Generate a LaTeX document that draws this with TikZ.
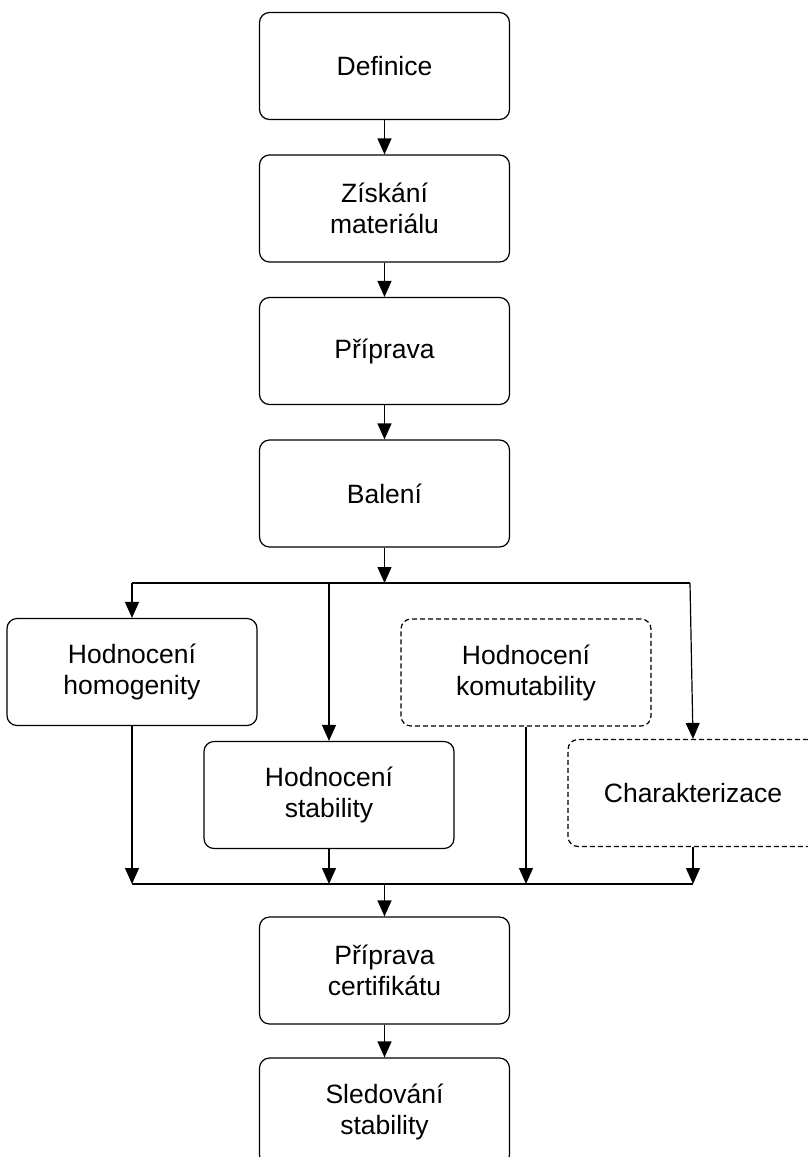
\documentclass[tikz,border=0pt]{standalone}
\usepackage{fontspec}
\setmainfont{Liberation Sans}
\usetikzlibrary{arrows.meta}
\begin{document}
\begin{tikzpicture}[x=1pt,y=-1pt,
  box/.style={draw, line width=1.2pt, rounded corners=10pt, minimum width=250pt,
    minimum height=107pt, align=center, inner sep=0pt,
    font=\fontsize{26.5}{31}\selectfont},
  optbox/.style={box, dash pattern=on 5pt off 3pt},
  link/.style={line width=1.2pt},
  arr/.style={link, -{Triangle[length=16pt,width=14pt]}}]
\useasboundingbox (0,0) rectangle (808,1157);
\clip (0,0) rectangle (808,1157);
\fill[white] (0,0) rectangle (808,1157);

% main chain
\node[box] (def)  at (384.5,66)    {Definice};
\node[box] (zis)  at (384.5,208.5) {Získání\\materiálu};
\node[box] (pri)  at (384.5,351)   {Příprava};
\node[box] (bal)  at (384.5,493.5) {Balení};

% parallel evaluations
\node[box]    (hom) at (132,672)   {Hodnocení\\homogenity};
\node[box]    (sta) at (329,795)   {Hodnocení\\stability};
\node[optbox] (kom) at (526,672.5) {Hodnocení\\komutability};
\node[optbox] (cha) at (693,793)   {Charakterizace};

% final steps
\node[box] (cert) at (384.5,970.5)  {Příprava\\certifikátu};
\node[box] (sled) at (384.5,1111.5) {Sledování\\stability};

\draw[arr] (def) -- (zis);
\draw[arr] (zis) -- (pri);
\draw[arr] (pri) -- (bal);

% fan-out bar
\coordinate (split) at (384.5,583);
\coordinate (bL) at (132,583);
\coordinate (bR) at (690,583);
\draw[arr] (bal) -- (split);
\draw[link] (bL) -- (bR);
\draw[arr] (bL) -- (hom.north);
\draw[arr] (sta.north |- split) -- (sta.north);
\draw[arr] (bR) -- (cha.north);

% fan-in bar
\coordinate (join) at (384.5,884);
\draw[link] (hom.south |- join) -- (cha.south |- join);
\draw[arr] (hom.south) -- (hom.south |- join);
\draw[arr] (sta.south) -- (sta.south |- join);
\draw[arr] (kom.south) -- (kom.south |- join);
\draw[arr] (cha.south) -- (cha.south |- join);
\draw[arr] (join) -- (cert.north);
\draw[arr] (cert) -- (sled);
\end{tikzpicture}
\end{document}
